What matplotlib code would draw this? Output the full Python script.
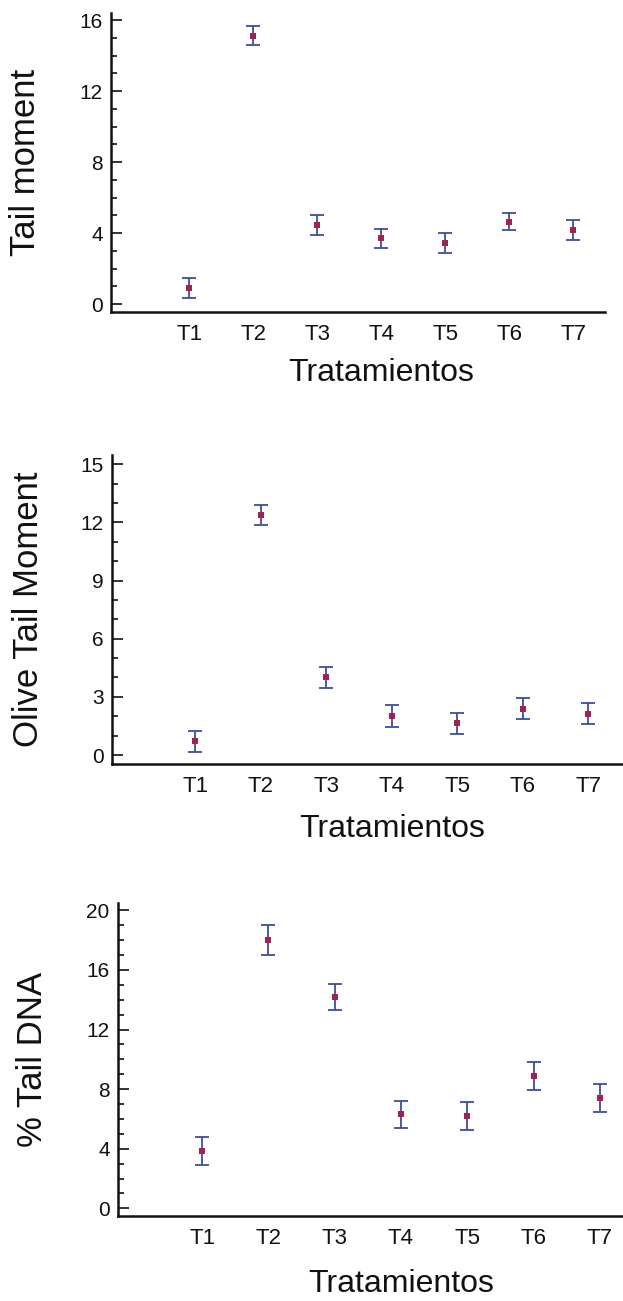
import numpy as np
import matplotlib
matplotlib.use("Agg")
import matplotlib.pyplot as plt
from matplotlib.ticker import MultipleLocator

# data (mean and half-width of the interval)
categories = ["T1", "T2", "T3", "T4", "T5", "T6", "T7"]
tail_moment = [0.89, 15.12, 4.45, 3.70, 3.45, 4.64, 4.17]
tail_moment_err = [0.56, 0.55, 0.55, 0.54, 0.55, 0.48, 0.54]
olive_moment = [0.72, 12.38, 4.00, 2.02, 1.63, 2.40, 2.12]
olive_moment_err = [0.54, 0.53, 0.55, 0.57, 0.54, 0.55, 0.54]
tail_dna = [3.85, 18.00, 14.20, 6.30, 6.20, 8.87, 7.42]
tail_dna_err = [0.93, 1.00, 0.87, 0.93, 0.93, 0.92, 0.93]

BAR = "#3a4ea3"
DOT = "#a3214c"
INK = "#111111"
NARROW = ["Liberation Sans Narrow", "Liberation Sans", "DejaVu Sans"]
REGULAR = ["Liberation Sans", "DejaVu Sans"]

W, H = 623, 1301
fig = plt.figure(figsize=(W / 100, H / 100), dpi=100, facecolor="white")


def panel(rect_px, values, errors, xlim, ylim, major, ylabel, ylab_x, xlab_dy):
    left, right, top, bottom = rect_px
    ax = fig.add_axes([left / W, 1 - bottom / H, (right - left) / W, (bottom - top) / H])
    x = np.arange(1, len(categories) + 1)

    ax.errorbar(x, values, yerr=errors, fmt="none", ecolor=BAR, elinewidth=1.3,
                capsize=5, capthick=1.3, zorder=2)
    ax.plot(x, values, linestyle="none", marker="s", markersize=3.8,
            color=DOT, markeredgewidth=0, zorder=3)

    ax.set_xlim(*xlim)
    ax.set_ylim(*ylim)
    ax.set_xticks(x)
    ax.set_xticklabels(categories, family=NARROW, fontsize=16, color=INK)
    ax.yaxis.set_major_locator(MultipleLocator(major))
    ax.yaxis.set_minor_locator(MultipleLocator(1))
    for lab in ax.get_yticklabels():
        lab.set_family(NARROW)
        lab.set_fontsize(15)
        lab.set_color(INK)

    ax.tick_params(axis="x", length=0, pad=9)
    ax.tick_params(axis="y", which="major", direction="in", length=8, width=1.2,
                   color=INK, pad=6)
    ax.tick_params(axis="y", which="minor", direction="in", length=4, width=1.2, color=INK)

    for side in ("top", "right"):
        ax.spines[side].set_visible(False)
    for side in ("left", "bottom"):
        ax.spines[side].set_color(INK)
        ax.spines[side].set_linewidth(1.8)

    ax.set_ylabel(ylabel, family=REGULAR, fontsize=25, color=INK, va="center")
    ax.yaxis.set_label_coords((ylab_x - left) / (right - left), 0.5)
    ax.set_xlabel("Tratamientos", family=REGULAR, fontsize=23, color=INK, va="center")
    ax.xaxis.set_label_coords((4 - xlim[0]) / (xlim[1] - xlim[0]),
                              -xlab_dy / (bottom - top))
    return ax


panel((111, 605, 13, 312), tail_moment, tail_moment_err, (-0.22, 7.5),
      (-0.45, 16.4), 4, "Tail moment", 26, 61)
panel((112, 623, 455, 764), olive_moment, olive_moment_err, (-0.27, 7.53),
      (-0.46, 15.47), 3, "Olive Tail Moment", 29, 65)
panel((118, 623, 903, 1216), tail_dna, tail_dna_err, (-0.27, 7.35),
      (-0.51, 20.49), 4, "% Tail DNA", 33, 68)

fig.savefig("out.png", dpi=100, facecolor="white")
